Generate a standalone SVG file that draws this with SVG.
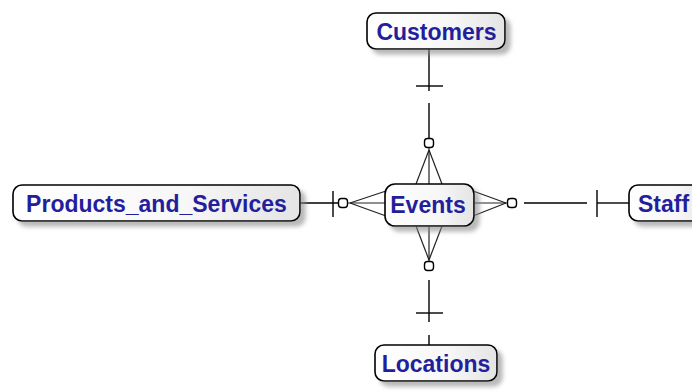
<svg xmlns="http://www.w3.org/2000/svg" width="692" height="392" viewBox="0 0 692 392">
  <defs>
    <linearGradient id="boxfill" x1="0" y1="0" x2="1" y2="0">
      <stop offset="0" stop-color="#ffffff"/>
      <stop offset="0.6" stop-color="#f7f7f7"/>
      <stop offset="1" stop-color="#e4e4e4"/>
    </linearGradient>
    <filter id="shadow" x="-10%" y="-20%" width="130%" height="160%">
      <feDropShadow dx="5" dy="5" stdDeviation="2" flood-color="#8a8a8a" flood-opacity="0.6"/>
    </filter>
  </defs>
  <style>
    .box { fill: url(#boxfill); stroke: #000; stroke-width: 1.6; filter: url(#shadow); }
    .lbl { font-family: "Liberation Sans", Arial, sans-serif; font-weight: bold; font-size: 23px; fill: #231f9c; }
    .ln { stroke: #000; stroke-width: 1.4; fill: none; }
    .cf { stroke: #222; stroke-width: 1.2; fill: none; }
    .opt { stroke: #000; stroke-width: 1.4; fill: #fff; }
  </style>
  <rect width="692" height="392" fill="#fff"/>

  <g id="connectors">
    <!-- Customers - Events -->
    <line class="ln" x1="429" y1="49" x2="429" y2="91"/>
    <line class="ln" x1="416" y1="86" x2="443" y2="86"/>
    <line class="ln" x1="429" y1="103" x2="429" y2="138"/>
    <rect class="opt" x="424.5" y="138.5" width="9" height="9" rx="3"/>
    <line class="cf" x1="429" y1="150" x2="416" y2="184"/>
    <line class="cf" x1="429" y1="148" x2="429" y2="184"/>
    <line class="cf" x1="429" y1="150" x2="442" y2="184"/>

    <!-- Events - Locations -->
    <line class="cf" x1="416" y1="226" x2="429" y2="260"/>
    <line class="cf" x1="429" y1="226" x2="429" y2="262"/>
    <line class="cf" x1="442" y1="226" x2="429" y2="260"/>
    <rect class="opt" x="424.5" y="261.5" width="9" height="9" rx="3"/>
    <line class="ln" x1="429" y1="280" x2="429" y2="322"/>
    <line class="ln" x1="416" y1="313" x2="443" y2="313"/>
    <line class="ln" x1="429" y1="335" x2="429" y2="345"/>

    <!-- Products_and_Services - Events -->
    <line class="ln" x1="300" y1="203" x2="338" y2="203"/>
    <line class="ln" x1="333" y1="191" x2="333" y2="217"/>
    <rect class="opt" x="338.5" y="198.5" width="9" height="9" rx="3"/>
    <line class="cf" x1="350" y1="203" x2="386" y2="191"/>
    <line class="cf" x1="348" y1="203" x2="386" y2="203"/>
    <line class="cf" x1="350" y1="203" x2="386" y2="216"/>

    <!-- Events - Staff -->
    <line class="cf" x1="473" y1="191" x2="506" y2="203"/>
    <line class="cf" x1="473" y1="203" x2="507" y2="203"/>
    <line class="cf" x1="473" y1="216" x2="506" y2="203"/>
    <rect class="opt" x="507.5" y="198.5" width="9" height="9" rx="3"/>
    <line class="ln" x1="524" y1="203" x2="587" y2="203"/>
    <line class="ln" x1="597" y1="190" x2="597" y2="217"/>
    <line class="ln" x1="597" y1="203" x2="629" y2="203"/>
  </g>

  <g id="customers">
    <rect class="box" x="367" y="13" width="138" height="36" rx="9"/>
    <text class="lbl" x="436.5" y="40" text-anchor="middle">Customers</text>
  </g>

  <g id="products_and_services">
    <rect class="box" x="13" y="185" width="287" height="36" rx="9"/>
    <text class="lbl" x="156.5" y="212" text-anchor="middle">Products_and_Services</text>
  </g>

  <g id="events">
    <rect class="box" x="385" y="184" width="89" height="42" rx="10"/>
    <text class="lbl" x="428" y="213" text-anchor="middle">Events</text>
  </g>

  <g id="staff">
    <rect class="box" x="629" y="185" width="80" height="36" rx="9"/>
    <text class="lbl" x="638" y="212">Staff</text>
  </g>

  <g id="locations">
    <rect class="box" x="375" y="345" width="122" height="36" rx="9"/>
    <text class="lbl" x="436" y="372" text-anchor="middle">Locations</text>
  </g>
</svg>
